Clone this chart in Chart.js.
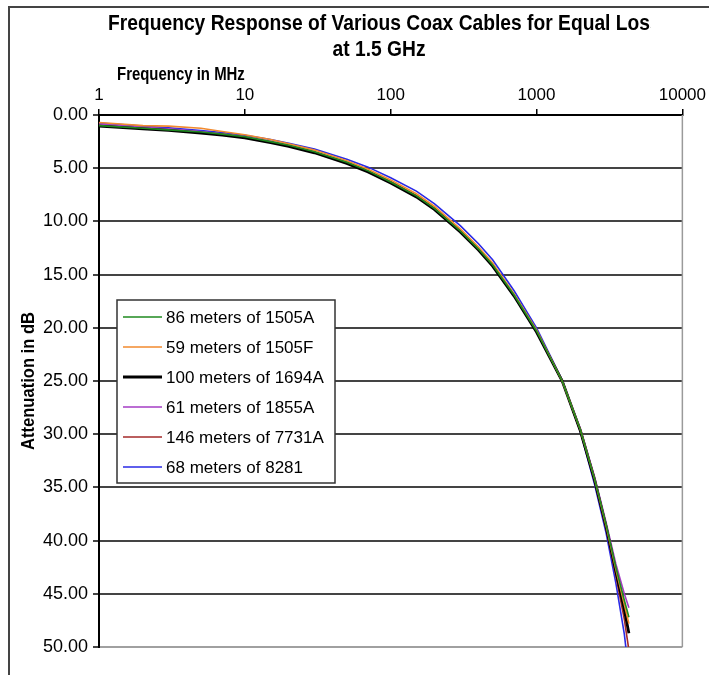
<!DOCTYPE html>
<html>
<head>
<meta charset="utf-8">
<title>Frequency Response of Various Coax Cables</title>
<script src="https://cdn.jsdelivr.net/npm/chart.js@4/dist/chart.umd.min.js"></script>
<style>
  html, body { margin: 0; padding: 0; background: #fff; }
  canvas { display: block; }
</style>
</head>
<body>
<canvas id="chart" width="709" height="675"></canvas>
<script>
// Frequency points (MHz) at which each cable's attenuation was measured
const freqMHz = [1, 2, 3, 5, 7, 10, 15, 20, 30, 50, 70, 100, 150, 200, 300, 400, 500, 700, 1000, 1500, 2000, 2500, 3000, 3500, 4000, 4300];

// Attenuation in dB for each cable run (all lengths chosen for equal loss at 1.5 GHz)
const loss1505A = [1.0, 1.25, 1.4, 1.6, 1.8, 2.05, 2.5, 2.85, 3.45, 4.45, 5.25, 6.3, 7.6, 8.8, 10.9, 12.6, 14.1, 16.9, 20.3, 25.0, 29.6, 34.2, 38.5, 42.5, 45.6, 47.2];
const loss1505F = [0.7, 1.0, 1.05, 1.25, 1.55, 1.85, 2.3, 2.7, 3.3, 4.3, 5.1, 6.1, 7.4, 8.6, 10.7, 12.4, 13.9, 16.8, 20.2, 25.0, 29.6, 34.2, 38.6, 42.7, 46.0, 47.8];
const loss1694A = [1.05, 1.3, 1.45, 1.7, 1.9, 2.15, 2.6, 2.95, 3.55, 4.55, 5.35, 6.4, 7.7, 8.9, 11.0, 12.7, 14.2, 17.0, 20.4, 25.0, 29.7, 34.3, 38.7, 42.9, 46.5, 48.7];
const loss1855A = [0.85, 1.15, 1.3, 1.55, 1.8, 2.1, 2.5, 2.9, 3.5, 4.5, 5.3, 6.35, 7.65, 8.85, 10.95, 12.65, 14.15, 17.0, 20.4, 25.0, 29.5, 34.0, 38.3, 42.2, 45.0, 46.3];
const loss7731A = [0.95, 1.2, 1.35, 1.6, 1.8, 2.05, 2.5, 2.85, 3.45, 4.45, 5.25, 6.25, 7.55, 8.75, 10.85, 12.55, 14.05, 16.9, 20.3, 25.0, 29.7, 34.4, 38.9, 43.3, 47.4, 50.3];
const loss8281  = [0.75, 1.05, 1.2, 1.45, 1.65, 1.9, 2.3, 2.65, 3.2, 4.15, 4.9, 5.9, 7.15, 8.35, 10.4, 12.1, 13.6, 16.5, 20.0, 24.9, 29.8, 34.7, 39.3, 44.0, 48.8, 52.5];

const seriesLabels = ['86 meters of 1505A', '59 meters of 1505F', '100 meters of 1694A', '61 meters of 1855A', '146 meters of 7731A', '68 meters of 8281'];
const seriesValues = [loss1505A, loss1505F, loss1694A, loss1855A, loss7731A, loss8281];
const seriesColors = ['#1f8a1f', '#f28a2e', '#000000', '#a43cc4', '#a52a2a', '#2a2ae6'];
const seriesWidths = [1.6, 1.6, 2.8, 1.6, 1.6, 1.6];

// Axis tick values
const xTicks = [1, 10, 100, 1000, 10000];
const yTicks = [0, 5, 10, 15, 20, 25, 30, 35, 40, 45, 50];

const titleLines = ['Frequency Response of Various Coax Cables for Equal Loss', 'at 1.5 GHz'];
const xAxisTitle = 'Frequency in MHz';
const yAxisTitle = 'Attenuation in dB';

const FONT = '"Liberation Sans", Arial, Helvetica, sans-serif';
Chart.defaults.font.family = FONT;

// Draws the outer frame, headings, plot frame and the boxed legend
const decorations = {
  id: 'decorations',
  beforeDraw(chart) {
    const c = chart.ctx;
    c.save();
    c.fillStyle = '#fff';
    c.fillRect(0, 0, chart.width, chart.height);
    c.strokeStyle = '#444';
    c.lineWidth = 2;
    c.strokeRect(9, 7, chart.width + 20, chart.height + 20);
    c.restore();
  },
  afterDraw(chart) {
    const c = chart.ctx;
    const area = chart.chartArea;
    c.save();

    // right edge of the plot frame
    c.strokeStyle = '#9a9a9a';
    c.lineWidth = 1.5;
    c.beginPath();
    c.moveTo(area.right, area.top);
    c.lineTo(area.right, area.bottom);
    c.stroke();

    // chart heading (condensed bold, clipped at the right)
    c.fillStyle = '#000';
    c.font = 'bold 22px ' + FONT;
    const cut = 'Frequency Response of Various Coax Cables for Equal Los';
    const sx = 542 / c.measureText(cut).width;
    c.save();
    c.beginPath();
    c.rect(0, 0, 651, 40);
    c.clip();
    c.translate(108, 24);
    c.scale(sx, 1);
    c.textAlign = 'left';
    c.textBaseline = 'middle';
    c.fillText(titleLines[0], 0, 0);
    c.restore();

    c.save();
    c.translate(379, 50);
    c.scale(sx, 1);
    c.textAlign = 'center';
    c.textBaseline = 'middle';
    c.fillText(titleLines[1], 0, 0);
    c.restore();

    // axis titles
    c.font = 'bold 18px ' + FONT;
    c.save();
    c.translate(117, 75);
    c.scale(0.83, 1);
    c.textAlign = 'left';
    c.textBaseline = 'middle';
    c.fillText(xAxisTitle, 0, 0);
    c.restore();

    c.save();
    c.translate(29, (area.top + area.bottom) / 2);
    c.rotate(-Math.PI / 2);
    c.scale(0.92, 1);
    c.textAlign = 'center';
    c.textBaseline = 'middle';
    c.fillText(yAxisTitle, 0, 0);
    c.restore();

    // legend box inside the plot
    const box = { x: 117, y: 300, w: 218, h: 183 };
    c.fillStyle = '#fff';
    c.fillRect(box.x, box.y, box.w, box.h);
    c.strokeStyle = '#333';
    c.lineWidth = 1.5;
    c.strokeRect(box.x, box.y, box.w, box.h);
    c.font = '17px ' + FONT;
    c.textAlign = 'left';
    c.textBaseline = 'middle';
    chart.data.datasets.forEach((ds, i) => {
      const yy = box.y + 17 + i * 30;
      c.strokeStyle = ds.borderColor;
      c.lineWidth = ds.borderWidth;
      c.beginPath();
      c.moveTo(box.x + 6, yy);
      c.lineTo(box.x + 45, yy);
      c.stroke();
      c.fillStyle = '#000';
      c.fillText(ds.label, box.x + 49, yy + 1);
    });
    c.restore();
  }
};

new Chart(document.getElementById('chart'), {
  type: 'line',
  data: {
    datasets: seriesLabels.map((label, i) => ({
      label,
      data: freqMHz.map((f, k) => ({ x: f, y: seriesValues[i][k] })),
      borderColor: seriesColors[i],
      backgroundColor: seriesColors[i],
      borderWidth: seriesWidths[i],
      pointRadius: 0,
      tension: 0,
      fill: false
    }))
  },
  options: {
    responsive: false,
    animation: false,
    layout: { padding: { top: 70, left: 8, right: 24, bottom: 28 } },
    plugins: {
      legend: { display: false },
      title: { display: false },
      tooltip: { enabled: false }
    },
    scales: {
      x: {
        type: 'logarithmic',
        position: 'top',
        min: 1,
        max: 10000,
        afterBuildTicks: s => { s.ticks = xTicks.map(v => ({ value: v })); },
        afterFit: s => { s.height = 45; },
        ticks: {
          callback: v => String(v),
          font: { size: 17 },
          color: '#000',
          padding: 3,
          maxRotation: 0,
          autoSkip: false
        },
        grid: { drawOnChartArea: false, drawTicks: true, tickLength: 6, color: '#000', lineWidth: 1.5 },
        border: { color: '#000', width: 2 }
      },
      y: {
        type: 'linear',
        reverse: true,
        min: 0,
        max: 50,
        afterBuildTicks: s => { s.ticks = yTicks.map(v => ({ value: v })); },
        afterFit: s => { s.width = 91; },
        ticks: {
          callback: v => Number(v).toFixed(2),
          font: { size: 18 },
          color: '#000',
          padding: 5
        },
        grid: {
          color: c => (c.tick && c.tick.value === 50) ? '#a0a0a0' : '#444',
          lineWidth: 2,
          tickLength: 6,
          tickColor: '#444'
        },
        border: { color: '#000', width: 2 }
      }
    }
  },
  plugins: [decorations]
});
</script>
</body>
</html>
